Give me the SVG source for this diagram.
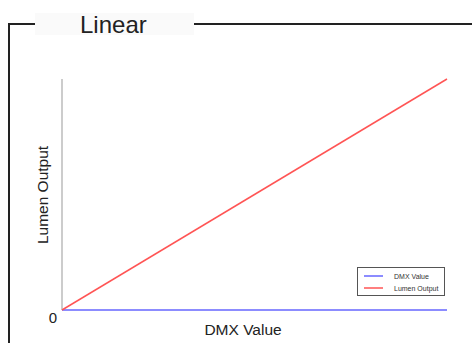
<svg xmlns="http://www.w3.org/2000/svg" width="472" height="343" viewBox="0 0 472 343">
<style>
.frame{stroke:#222;stroke-width:2;fill:none}
.t{font-family:"Liberation Sans",Arial,sans-serif;fill:#222}
.leg{font-family:"Liberation Sans",Arial,sans-serif;fill:#333;font-size:7px}
</style>
<rect width="472" height="343" fill="#fff"/>
<g id="frame">
<path class="frame" d="M9,343 V24 H35 M194,24 H472"/>
<rect x="35" y="13" width="159" height="22" fill="#fafafa"/>
<text class="t" x="80" y="33" font-size="24" fill="#333">Linear</text>
</g>
<g id="axes">
<line x1="62" y1="79" x2="62" y2="310" stroke="#999" stroke-width="1"/>
<text class="t" x="57" y="323" font-size="15" text-anchor="end">0</text>
<text class="t" x="243" y="335" font-size="15.5" text-anchor="middle">DMX Value</text>
<text class="t" x="0" y="0" font-size="15.5" text-anchor="middle" transform="translate(48,195) rotate(-90)">Lumen Output</text>
</g>
<g id="series">
<line x1="62" y1="310" x2="447" y2="310" stroke="#6666ff" stroke-width="1.5"/>
<line x1="62" y1="310" x2="447" y2="79" stroke="#ff5555" stroke-width="1.5"/>
</g>
<g id="legend">
<rect x="357.5" y="267.5" width="87" height="28" fill="#fff" stroke="#555" stroke-width="1"/>
<line x1="364" y1="276" x2="383" y2="276" stroke="#6666ff" stroke-width="1.5"/>
<line x1="364" y1="288" x2="383" y2="288" stroke="#ff5555" stroke-width="1.5"/>
<text class="leg" x="394" y="278.5">DMX Value</text>
<text class="leg" x="394" y="290.5">Lumen Output</text>
</g>
</svg>
